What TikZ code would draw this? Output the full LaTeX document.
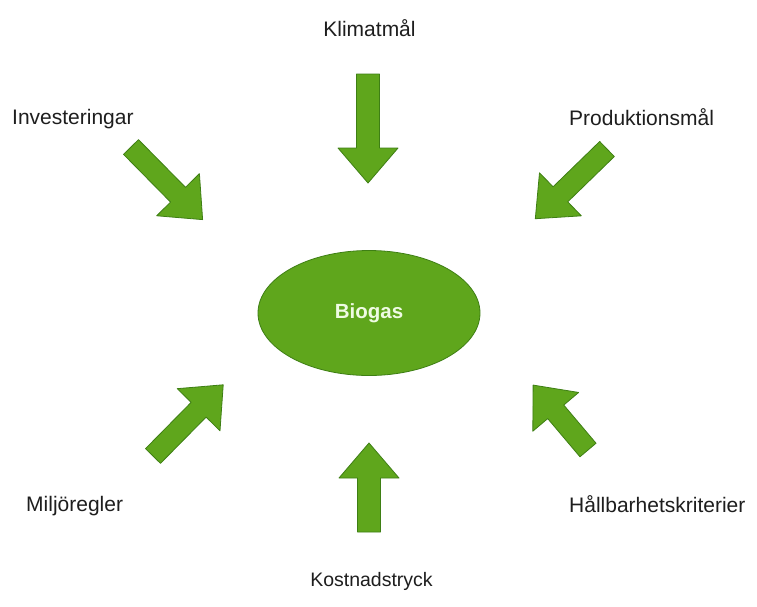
\documentclass[tikz,border=0pt]{standalone}
\usepackage{fontspec}
\setmainfont{Liberation Sans}
\usetikzlibrary{shapes.geometric}
\definecolor{arrowfill}{HTML}{5FA61C}
\definecolor{arrowline}{HTML}{3E7F14}
\definecolor{labelcol}{HTML}{1E1E1E}
\definecolor{biotext}{HTML}{EFFBE3}
\tikzset{
  arrowstyle/.style={fill=arrowfill, draw=arrowline, line width=0.8pt, line join=round},
  labeltext/.style={font=\fontsize{21}{25}\selectfont, text=labelcol, inner sep=0pt, anchor=base},
  pics/bigarrow/.style 2 args={code={
    \filldraw[arrowstyle] (0,-#2) -- ({#1-35},-#2) -- ({#1-35},-30) -- (#1,0)
      -- ({#1-35},30) -- ({#1-35},#2) -- (0,#2) -- cycle;}}
}
\begin{document}
\begin{tikzpicture}[x=1pt,y=-1pt]
\useasboundingbox (0,0) rectangle (757,606);
\fill[white] (0,0) rectangle (757,606);

\node[ellipse, fill=arrowfill, draw=arrowline, line width=0.8pt,
      minimum width=222pt, minimum height=125pt, inner sep=0pt,
      font=\fontsize{20.5}{24}\selectfont\bfseries, text=biotext] (biogas) at (369,313) {Biogas};

\pic (aklimat) at (368,74) [rotate=-90] {bigarrow={109}{11.5}};
\pic (akostnad) at (369,532) [rotate=90] {bigarrow={89}{11.5}};
\pic (ainvest) at (131,147) [rotate=-45.4] {bigarrow={102}{10.5}};
\pic (aprod) at (607,149) [rotate=-135.8] {bigarrow={100}{10.5}};
\pic (amiljo) at (153,456) [rotate=45.4] {bigarrow={100}{10.5}};
\pic (ahall) at (588,450) [rotate=130.2] {bigarrow={85}{10.5}};

\node[labeltext] (klimat) at (369.5,36) {Klimatmål};
\node[labeltext, anchor=base west] (invest) at (12,124) {Investeringar};
\node[labeltext, anchor=base west] (prod) at (569,125) {Produktionsmål};
\node[labeltext, anchor=base west] (miljo) at (26,511) {Miljöregler};
\node[labeltext, anchor=base west] (hall) at (569,512) {Hållbarhetskriterier};
\node[labeltext, font=\fontsize{19.5}{23}\selectfont] (kostnad) at (371.5,586) {Kostnadstryck};
\end{tikzpicture}
\end{document}
